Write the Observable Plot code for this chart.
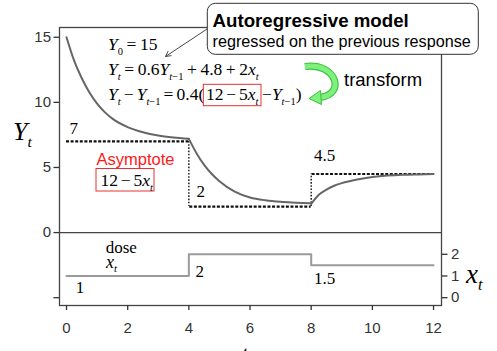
<!DOCTYPE html>
<html><head><meta charset="utf-8">
<script src="https://cdn.jsdelivr.net/npm/d3@7"></script>
<script src="https://cdn.jsdelivr.net/npm/@observablehq/plot@0.6"></script>
<style>
body{margin:0;background:#fff}
#chart{position:relative;width:497px;height:351px;overflow:hidden}
text{white-space:pre}
</style>
</head><body><div id="chart"></div>
<script>
// ---- data ----
const curveT   = [0,0.25,0.5,0.75,1,1.25,1.5,2,2.5,3,3.5,4,
                  4,4.25,4.5,4.75,5,5.5,6,6.5,7,7.5,8,
                  8,8.25,8.5,8.75,9,9.5,10,10.5,11,11.5,12];
const curveY   = [15,13.2,11.85,10.75,9.9,9.25,8.75,8.1,7.7,7.45,7.3,7.2,
                  7.2,6.1,5.2,4.5,3.95,3.15,2.7,2.48,2.36,2.3,2.25,
                  2.2,2.9,3.3,3.6,3.8,4.08,4.27,4.38,4.44,4.47,4.49];
const curveSeg = [1,1,1,1,1,1,1,1,1,1,1,1,
                  2,2,2,2,2,2,2,2,2,2,2,
                  3,3,3,3,3,3,3,3,3,3,3];
const asymStart = [0,4,8];
const asymEnd   = [4,8,12];
const asymLevel = [7,2,4.5];
const doseT = [0,4,8,12];
const doseX = [1,2,1.5,1.5];
const xTicks  = [0,2,4,6,8,10,12];
const yTicks  = [-5,0,5,10,15];
const xtTicks = [0,1,2];
const asymLabels = ["7","2","4.5"];
const asymLabelT = [0.1,4.25,8.09];
const asymLabelY = [7.98,3.17,5.88];
const doseLabels = ["1","2","1.5"];
const doseLabelT = [0.3,4.22,8.09];
const doseLabelX = [0.45,1.2,0.9];

// dose (x_t) shares the vertical scale: x_t = 0 sits at Y = -5, 3 units of x_t = 5 units of Y
const toY = x => -5 + x * 5 / 3;
const fromY = y => Math.round((y + 5) * 3 / 5);

const curve = curveT.map((t, i) => ({t, y: curveY[i], s: curveSeg[i]}));
const dose = doseT.map((t, i) => ({t, x: doseX[i]}));

const plot = Plot.plot({
  width: 497, height: 351,
  marginLeft: 59, marginRight: 56, marginTop: 27, marginBottom: 46,
  x: {domain: [-0.229, 12.26]},
  y: {domain: [-5.6, 15.75]},
  style: {fontFamily: "'Liberation Sans', Arial, sans-serif", fontSize: "15px", color: "#333", background: "white", overflow: "visible"},
  marks: [
    Plot.frame({stroke: "#444", strokeWidth: 1.3}),
    Plot.ruleY([0], {stroke: "#444", strokeWidth: 1.3}),
    Plot.axisX(xTicks, {tickSize: 5, tickPadding: 12, label: null, fontSize: 15, strokeWidth: 1.3}),
    Plot.axisY(yTicks, {anchor: "left", tickSize: 5.5, tickPadding: 3, label: null, fontSize: 15, strokeWidth: 1.3,
      tickFormat: d => d < 0 ? "" : String(d)}),
    Plot.axisY(xtTicks.map(toY), {anchor: "right", tickSize: 5.5, tickPadding: 4, label: null, fontSize: 15, strokeWidth: 1.3,
      tickFormat: d => String(fromY(d))}),
    Plot.ruleY(asymLevel, {y: d => d, x1: (d, i) => asymStart[i] + (i ? 0.03 : 0), x2: (d, i) => asymEnd[i],
      stroke: "#111", strokeWidth: 2.2, strokeDasharray: "3,1.6"}),
    Plot.ruleX([4, 8], {x: d => d, y1: (d, i) => asymLevel[i], y2: (d, i) => asymLevel[i + 1],
      stroke: "#111", strokeWidth: 1.4, strokeDasharray: "1.6,1.6"}),
    Plot.line(dose, {x: "t", y: d => toY(d.x), curve: "step-after", stroke: "#9a9a9a", strokeWidth: 2}),
    Plot.line(curve, {x: "t", y: "y", z: "s", curve: "monotone-x", stroke: "#666", strokeWidth: 2}),
    Plot.text(asymLabels, {x: (d, i) => asymLabelT[i], y: (d, i) => asymLabelY[i], text: d => d, textAnchor: "start",
      fontFamily: "'Liberation Serif', 'Times New Roman', serif", fontSize: 17, fill: "#000"}),
    Plot.text(doseLabels, {x: (d, i) => doseLabelT[i], y: (d, i) => toY(doseLabelX[i]), text: d => d, textAnchor: "start",
      fontFamily: "'Liberation Serif', 'Times New Roman', serif", fontSize: 17, fill: "#000"}),
    Plot.text(["dose"], {x: 1.28, y: -1.15, text: d => d, textAnchor: "start",
      fontFamily: "'Liberation Serif', 'Times New Roman', serif", fontSize: 17, fill: "#000"})
  ]
});
document.getElementById("chart").appendChild(plot);

// ---- annotations ----
const svg = d3.select(plot);
const g = svg.append("g").attr("text-anchor", "start");
const SERIF = "'Liberation Serif', 'Times New Roman', serif";
const SANS = "'Liberation Sans', Arial, sans-serif";

function math(x, y, parts, size = 17.5, ws = 0, color = "#000") {
  const t = g.append("text").attr("x", x).attr("y", y).attr("text-anchor", "start")
    .attr("font-family", SERIF).attr("font-size", size).attr("fill", color)
    .attr("word-spacing", ws);
  let shifted = 0;
  for (const [s, kind = ""] of parts) {
    const ts = t.append("tspan").text(s);
    const sub = kind.includes("s");
    const target = sub ? size * 0.27 : 0;
    if (target !== shifted) { ts.attr("dy", target - shifted); shifted = target; }
    if (kind.includes("i")) ts.attr("font-style", "italic");
    if (sub) ts.attr("font-size", size * 0.6);
  }
  return t;
}

// equations
math(108, 50, [["Y","i"],["0","s"],[" = 15"]], 17.5, -0.8);
math(108, 75, [["Y","i"],["t","is"],[" = 0.6"],["Y","i"],["t","is"],["−1","s"],[" + 4.8 + 2"],["x","i"],["t","is"]], 17.5, -0.8);
math(108, 100, [["Y","i"],["t","is"],[" − "],["Y","i"],["t","is"],["−1","s"],[" = 0.4("]], 17.5, -1.3);
math(206, 100, [["12 − 5"],["x","i"],["t","is"]], 17.5, -1.6);
math(262, 100, [["−"],["Y","i"],["t","is"],["−1","s"],[")"]], 17.5);
g.append("rect").attr("x", 203.3).attr("y", 84.3).attr("width", 57.7).attr("height", 21.4)
  .attr("fill", "none").attr("stroke", "#e83030").attr("stroke-width", 1);

// asymptote
g.append("text").attr("x", 96.5).attr("y", 165).attr("font-family", SANS).attr("font-size", 16.5)
  .attr("fill", "#ff1a1a").text("Asymptote");
g.append("rect").attr("x", 96).attr("y", 168.5).attr("width", 58).attr("height", 22.5)
  .attr("fill", "none").attr("stroke", "#e83030").attr("stroke-width", 1);
math(100.5, 186, [["12 − 5"],["x","i"],["t","is"]], 17.5, -1.6);

// dose x_t
math(106, 267.5, [["x","i"],["t","is"]], 18);

// axis titles
math(13, 140, [["Y","i"],["t","is"]], 26);
math(466, 283, [["x","i"],["t","is"]], 27);
math(241, 363, [["t","i"]], 26);

// box + small arrow
g.append("line").attr("x1", 207).attr("y1", 29).attr("x2", 165.5).attr("y2", 56.5)
  .attr("stroke", "#333").attr("stroke-width", 0.9);
g.append("path").attr("d", "M171.5,55.6 L165.5,56.5 L168.2,50.9")
  .attr("fill", "none").attr("stroke", "#333").attr("stroke-width", 0.9);
g.append("rect").attr("x", 207.3).attr("y", 3.3).attr("width", 271).attr("height", 51).attr("rx", 8)
  .attr("fill", "white").attr("stroke", "#333").attr("stroke-width", 1);
g.append("text").attr("x", 212.5).attr("y", 26.5).attr("font-family", SANS).attr("font-size", 18.7)
  .attr("font-weight", "bold").attr("fill", "#000").text("Autoregressive model");
g.append("text").attr("x", 212.5).attr("y", 46.7).attr("font-family", SANS).attr("font-size", 16.2)
  .attr("fill", "#000").text("regressed on the previous response");

// green transform arrow
const arc = "M305,66.5 C336,62 347,95 319,97.5";
g.append("path").attr("d", arc).attr("fill", "none").attr("stroke", "#3cbf3c").attr("stroke-width", 7.2);
g.append("path").attr("d", arc).attr("fill", "none").attr("stroke", "#7ef07e").attr("stroke-width", 5);
g.append("path").attr("d", "M309,98.5 L320.5,90.5 L321.5,104.5 Z")
  .attr("fill", "#7ef07e").attr("stroke", "#3cbf3c").attr("stroke-width", 1).attr("stroke-linejoin", "round");
g.append("text").attr("x", 344).attr("y", 86).attr("font-family", SANS).attr("font-size", 18.5)
  .attr("fill", "#000").text("transform");
</script>
</body></html>
